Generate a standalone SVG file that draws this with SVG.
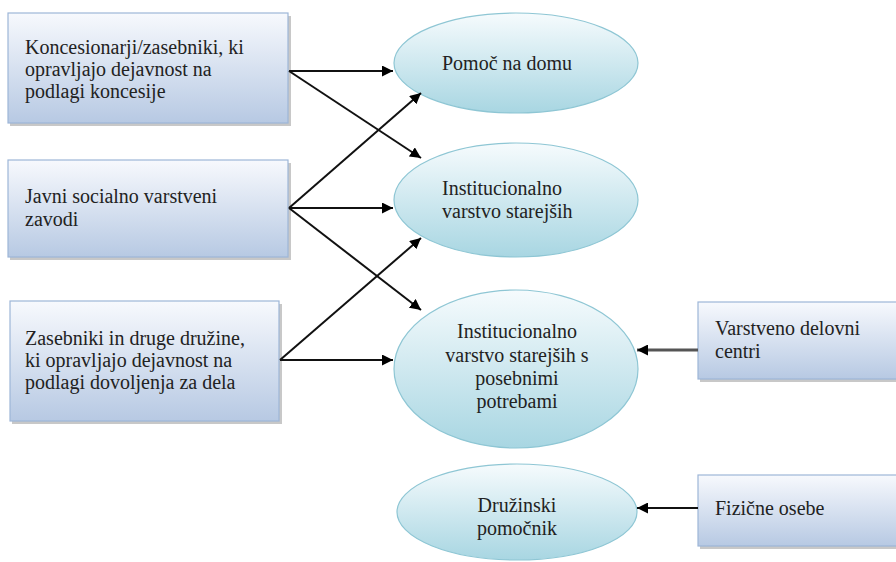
<svg xmlns="http://www.w3.org/2000/svg" width="896" height="562" viewBox="0 0 896 562">
<defs>
<linearGradient id="gBox" x1="0" y1="0" x2="0" y2="1">
<stop offset="0" stop-color="#f7f9fd"/>
<stop offset="1" stop-color="#b7c9e3"/>
</linearGradient>
<linearGradient id="gEll" x1="0" y1="0" x2="0" y2="1">
<stop offset="0" stop-color="#f6fbfd"/>
<stop offset="1" stop-color="#a8d6e2"/>
</linearGradient>
<marker id="ah" viewBox="0 0 10 10" refX="10" refY="5" markerWidth="11" markerHeight="11" markerUnits="userSpaceOnUse" orient="auto">
<path d="M0,0 L10,5 L0,10 z" fill="#000"/>
</marker>
</defs>
<style>
.box{fill:url(#gBox);stroke:#9db6d8;stroke-width:1.2}
.shadow{fill:#9a9a9a;opacity:0.55}
.ell{fill:url(#gEll);stroke:#8ec6d4;stroke-width:1.2}
.t{font-family:"Liberation Serif","Times New Roman",serif;font-size:20px;fill:#222}
.c{text-anchor:middle}
.con line{stroke:#111;stroke-width:2;marker-end:url(#ah)}
</style>
<rect width="896" height="562" fill="#fff"/>
<g id="n1">
<rect class="shadow" x="10" y="16" width="281" height="110"/>
<rect class="box" x="8" y="13" width="280" height="110"/>
<text class="t" x="25" y="54">Koncesionarji/zasebniki, ki</text>
<text class="t" x="25" y="76">opravljajo dejavnost na</text>
<text class="t" x="25" y="98">podlagi koncesije</text>
</g>
<g id="n2">
<rect class="shadow" x="10" y="163" width="281" height="97"/>
<rect class="box" x="8" y="160" width="280" height="97"/>
<text class="t" x="25" y="203">Javni socialno varstveni</text>
<text class="t" x="25" y="226">zavodi</text>
</g>
<g id="n3">
<rect class="shadow" x="12" y="304" width="270" height="120"/>
<rect class="box" x="10" y="301" width="269" height="120"/>
<text class="t" x="25" y="345">Zasebniki in druge družine,</text>
<text class="t" x="25" y="367">ki opravljajo dejavnost na</text>
<text class="t" x="25" y="389">podlagi dovoljenja za dela</text>
</g>
<g id="n4">
<rect class="shadow" x="700" y="305" width="200" height="77"/>
<rect class="box" x="698" y="302" width="200" height="77"/>
<text class="t" x="715" y="335">Varstveno delovni</text>
<text class="t" x="715" y="358">centri</text>
</g>
<g id="n5">
<rect class="shadow" x="700" y="478" width="200" height="71"/>
<rect class="box" x="698" y="475" width="200" height="71"/>
<text class="t" x="715" y="515">Fizične osebe</text>
</g>
<g id="e1">
<ellipse class="ell" cx="516" cy="63" rx="122" ry="50"/>
<text class="t" x="442" y="70">Pomoč na domu</text>
</g>
<g id="e2">
<ellipse class="ell" cx="516" cy="200" rx="122" ry="57"/>
<text class="t" x="442" y="195">Institucionalno</text>
<text class="t" x="442" y="218">varstvo starejših</text>
</g>
<g id="e3">
<ellipse class="ell" cx="516" cy="369" rx="122" ry="79"/>
<text class="t c" x="517" y="338">Institucionalno</text>
<text class="t c" x="517" y="362">varstvo starejših s</text>
<text class="t c" x="517" y="385">posebnimi</text>
<text class="t c" x="517" y="408">potrebami</text>
</g>
<g id="e4">
<ellipse class="ell" cx="517" cy="512" rx="120" ry="48"/>
<text class="t c" x="517" y="512">Družinski</text>
<text class="t c" x="517" y="535">pomočnik</text>
</g>
<g id="connectors" class="con">
<line x1="289" y1="71" x2="393" y2="71"/>
<line x1="289" y1="71" x2="421" y2="158"/>
<line x1="289" y1="208" x2="421" y2="93"/>
<line x1="289" y1="208" x2="393" y2="208"/>
<line x1="289" y1="208" x2="421" y2="310"/>
<line x1="280" y1="360" x2="421" y2="238"/>
<line x1="280" y1="360" x2="393" y2="360"/>
<line x1="698" y1="350" x2="637" y2="350" style="stroke:#555;stroke-width:3"/>
<line x1="698" y1="508" x2="637" y2="508"/>
</g>
</svg>
